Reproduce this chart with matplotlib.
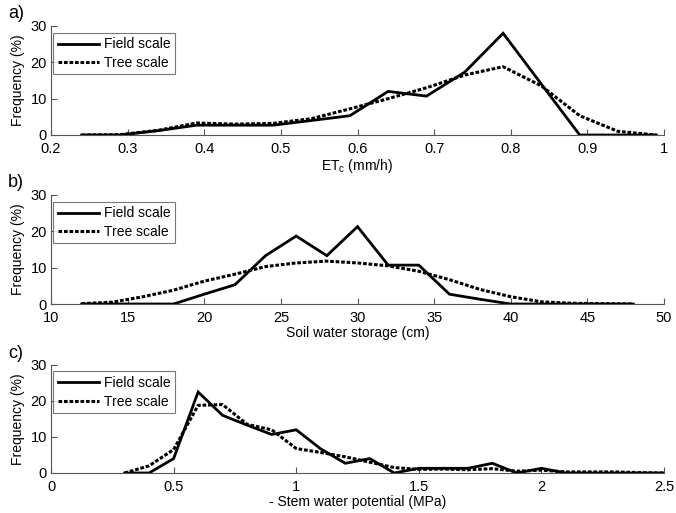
import matplotlib
matplotlib.use("Agg")
import matplotlib.pyplot as plt
import numpy as np

plt.rcParams['font.family'] = ['Liberation Sans', 'DejaVu Sans']

# Panel a: ETc
a_x = [0.24, 0.29, 0.34, 0.39, 0.44, 0.49, 0.54, 0.59, 0.64, 0.69, 0.74, 0.79, 0.84, 0.89, 0.94, 0.99]
a_field = [0, 0, 1.2, 2.7, 2.7, 2.7, 4.0, 5.3, 12.0, 10.7, 17.3, 28.0, 14.0, 0, 0, 0]
a_tree = [0, 0.1, 1.3, 3.3, 3.0, 3.2, 4.5, 7.2, 10.0, 13.0, 16.5, 18.8, 13.5, 5.3, 1.0, 0]

# Panel b: soil water storage
b_x = [12, 14, 16, 18, 20, 22, 24, 26, 28, 30, 32, 34, 36, 38, 40, 42, 44, 46, 48]
b_field = [0, 0, 0, 0, 2.7, 5.3, 13.3, 18.7, 13.3, 21.3, 10.7, 10.7, 2.7, 1.3, 0, 0, 0, 0, 0]
b_tree = [0.1, 0.5, 2.0, 3.8, 6.3, 8.2, 10.3, 11.3, 11.8, 11.3, 10.5, 9.0, 6.7, 4.0, 2.0, 0.6, 0.2, 0.1, 0]

# Panel c: stem water potential
c_x = [0.3, 0.4, 0.5, 0.6, 0.7, 0.8, 0.9, 1.0, 1.1, 1.2, 1.3, 1.4, 1.5, 1.6, 1.7, 1.8, 1.9, 2.0, 2.1, 2.2, 2.3, 2.4, 2.5]
c_field = [0, 0, 4.0, 22.5, 16.0, 13.3, 10.7, 12.0, 6.7, 2.7, 4.0, 0, 1.3, 1.3, 1.3, 2.7, 0, 1.3, 0, 0, 0, 0, 0]
c_tree = [0, 2.0, 6.5, 18.8, 19.0, 13.5, 12.0, 6.8, 5.7, 4.5, 3.0, 1.5, 1.0, 1.1, 0.9, 1.2, 0.5, 0.8, 0.3, 0.3, 0.3, 0.1, 0]

panels = [
    ("a)", a_x, a_field, a_tree, (0.2, 1.0), [0.2, 0.3, 0.4, 0.5, 0.6, 0.7, 0.8, 0.9, 1.0],
     ["0.2", "0.3", "0.4", "0.5", "0.6", "0.7", "0.8", "0.9", "1"], "ET$_\\mathregular{c}$ (mm/h)"),
    ("b)", b_x, b_field, b_tree, (10, 50), [10, 15, 20, 25, 30, 35, 40, 45, 50],
     ["10", "15", "20", "25", "30", "35", "40", "45", "50"], "Soil water storage (cm)"),
    ("c)", c_x, c_field, c_tree, (0, 2.5), [0, 0.5, 1.0, 1.5, 2.0, 2.5],
     ["0", "0.5", "1", "1.5", "2", "2.5"], "- Stem water potential (MPa)"),
]

W, H = 676, 513
fig = plt.figure(figsize=(W / 100, H / 100), dpi=100)
boxes = [(51, 26, 664, 135), (51, 195, 664, 304), (51, 365, 664, 473)]

for (lab, x, fld, tre, xl, xt, xtl, xlab), (l, t, r, b) in zip(panels, boxes):
    ax = fig.add_axes([l / W, 1 - b / H, (r - l) / W, (b - t) / H])
    ax.plot(x, fld, color='black', lw=2.0, solid_joinstyle='miter', label='Field scale')
    ax.plot(x, tre, color='black', lw=2.2, linestyle=(0, (1.2, 0.6)), label='Tree scale')
    ax.set_xlim(*xl)
    ax.set_ylim(0, 30)
    ax.set_xticks(xt)
    ax.set_xticklabels(xtl)
    ax.set_yticks([0, 10, 20, 30])
    ax.spines['top'].set_visible(False)
    ax.spines['right'].set_visible(False)
    for s in ('left', 'bottom'):
        ax.spines[s].set_color('#555555')
        ax.spines[s].set_linewidth(0.8)
    ax.tick_params(direction='in', length=4, width=0.8, color='#555555', labelsize=10.5)
    ax.tick_params(axis='x', pad=5)
    ax.tick_params(axis='y', pad=3)
    ax.set_xlabel(xlab, fontsize=10, labelpad=1)
    ax.set_ylabel('Frequency (%)', fontsize=10, labelpad=4)
    leg = ax.legend(loc='upper left', bbox_to_anchor=(0.003, 0.94), fontsize=10, frameon=True,
                    fancybox=False, edgecolor='#555555', handlelength=3.0, handletextpad=0.3,
                    borderpad=0.35, labelspacing=0.3, borderaxespad=0)
    leg.get_frame().set_linewidth(0.8)
    fig.text(8 / W, 1 - (t - 12) / H, lab, fontsize=13, va='center', ha='left')

fig.savefig('out.png', dpi=100)
